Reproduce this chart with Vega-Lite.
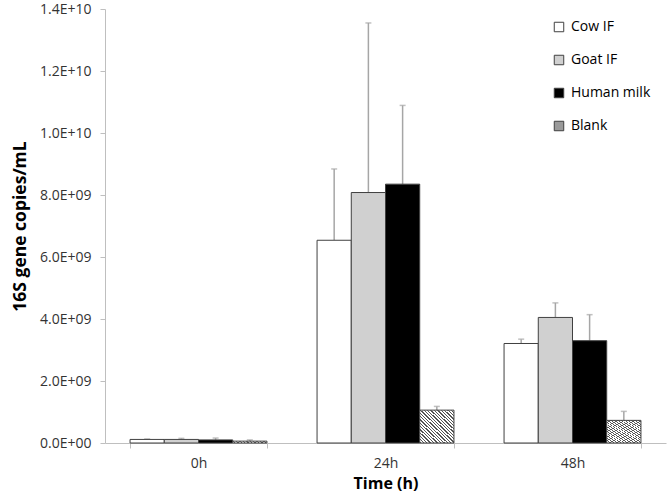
{
  "$schema": "https://vega.github.io/schema/vega-lite/v6.json",
  "width": 561,
  "height": 434,
  "autosize": {"type": "none"},
  "padding": {"left": 105, "top": 9, "right": 3, "bottom": 55},
  "background": "white",
  "config": {
    "view": {"stroke": null},
    "font": "Open Sans",
    "axis": {"labelFont": "Open Sans", "titleFont": "Open Sans", "labelColor": "#333333", "titleColor": "#000000", "domainColor": "#bfbfbf", "tickColor": "#bfbfbf", "grid": false}
  },
  "data": {
    "values": [
      {"time": "0h", "group": "Cow IF", "value": 1.15e8, "upper": 1.3e8},
      {"time": "0h", "group": "Goat IF", "value": 1.15e8, "upper": 1.5e8},
      {"time": "0h", "group": "Human milk", "value": 1.0e8, "upper": 1.6e8},
      {"time": "0h", "group": "Blank", "value": 0.6e8, "upper": 1.0e8},
      {"time": "24h", "group": "Cow IF", "value": 6.54e9, "upper": 8.84e9},
      {"time": "24h", "group": "Goat IF", "value": 8.08e9, "upper": 1.355e10},
      {"time": "24h", "group": "Human milk", "value": 8.35e9, "upper": 1.089e10},
      {"time": "24h", "group": "Blank", "value": 1.06e9, "upper": 1.18e9},
      {"time": "48h", "group": "Cow IF", "value": 3.21e9, "upper": 3.35e9},
      {"time": "48h", "group": "Goat IF", "value": 4.05e9, "upper": 4.52e9},
      {"time": "48h", "group": "Human milk", "value": 3.3e9, "upper": 4.14e9},
      {"time": "48h", "group": "Blank", "value": 0.73e9, "upper": 1.02e9}
    ]
  },
  "encoding": {
    "x": {
      "field": "time", "type": "nominal", "sort": ["0h", "24h", "48h"],
      "scale": {"paddingInner": 0.268, "paddingOuter": 0.134},
      "axis": {"title": "Time (h)", "labelAngle": 0, "labelFontSize": 14, "titleFontSize": 16, "titleFontWeight": "bold", "tickBand": "extent", "tickSize": 5, "labelPadding": 8, "titlePadding": 5}
    },
    "xOffset": {
      "field": "group", "type": "nominal", "sort": ["Cow IF", "Goat IF", "Human milk", "Blank"],
      "scale": {"paddingInner": 0, "paddingOuter": 0}
    }
  },
  "layer": [
    {
      "mark": {"type": "rule", "color": "#a6a6a6", "strokeWidth": 1.5},
      "encoding": {
        "y": {"field": "value", "type": "quantitative"},
        "y2": {"field": "upper"}
      }
    },
    {
      "mark": {"type": "tick", "color": "#a6a6a6", "thickness": 1.5, "size": 6, "orient": "horizontal"},
      "encoding": {
        "y": {"field": "upper", "type": "quantitative"}
      }
    },
    {
      "mark": {"type": "bar", "stroke": "#404040", "strokeWidth": 1},
      "encoding": {
        "y": {
          "field": "value", "type": "quantitative",
          "scale": {"domain": [0, 1.4e10], "nice": false},
          "axis": {
            "title": "16S gene copies/mL", "values": [0, 2e9, 4e9, 6e9, 8e9, 1e10, 1.2e10, 1.4e10],
            "labelExpr": "datum.value < 1e10 ? replace(upper(format(datum.value, '.1e')), 'E+', 'E+0') : upper(format(datum.value, '.1e'))",
            "labelFontSize": 14, "titleFontSize": 17.5, "titleFontWeight": "bold", "tickSize": 5, "labelPadding": 9, "titlePadding": 10
          }
        },
        "fill": {
          "condition": {"test": "datum.group === 'Blank'", "value": {"gradient": "linear", "x1": 0, "y1": 1, "x2": 1, "y2": 0, "stops": [
              {"offset": 0, "color": "#555555"}, {"offset": 0.02, "color": "#555555"}, {"offset": 0.02, "color": "#ffffff"}, {"offset": 0.05, "color": "#ffffff"},
              {"offset": 0.05, "color": "#555555"}, {"offset": 0.07, "color": "#555555"}, {"offset": 0.07, "color": "#ffffff"}, {"offset": 0.10, "color": "#ffffff"},
              {"offset": 0.10, "color": "#555555"}, {"offset": 0.12, "color": "#555555"}, {"offset": 0.12, "color": "#ffffff"}, {"offset": 0.15, "color": "#ffffff"},
              {"offset": 0.15, "color": "#555555"}, {"offset": 0.17, "color": "#555555"}, {"offset": 0.17, "color": "#ffffff"}, {"offset": 0.20, "color": "#ffffff"},
              {"offset": 0.20, "color": "#555555"}, {"offset": 0.22, "color": "#555555"}, {"offset": 0.22, "color": "#ffffff"}, {"offset": 0.25, "color": "#ffffff"},
              {"offset": 0.25, "color": "#555555"}, {"offset": 0.27, "color": "#555555"}, {"offset": 0.27, "color": "#ffffff"}, {"offset": 0.30, "color": "#ffffff"},
              {"offset": 0.30, "color": "#555555"}, {"offset": 0.32, "color": "#555555"}, {"offset": 0.32, "color": "#ffffff"}, {"offset": 0.35, "color": "#ffffff"},
              {"offset": 0.35, "color": "#555555"}, {"offset": 0.37, "color": "#555555"}, {"offset": 0.37, "color": "#ffffff"}, {"offset": 0.40, "color": "#ffffff"},
              {"offset": 0.40, "color": "#555555"}, {"offset": 0.42, "color": "#555555"}, {"offset": 0.42, "color": "#ffffff"}, {"offset": 0.45, "color": "#ffffff"},
              {"offset": 0.45, "color": "#555555"}, {"offset": 0.47, "color": "#555555"}, {"offset": 0.47, "color": "#ffffff"}, {"offset": 0.50, "color": "#ffffff"},
              {"offset": 0.50, "color": "#555555"}, {"offset": 0.52, "color": "#555555"}, {"offset": 0.52, "color": "#ffffff"}, {"offset": 0.55, "color": "#ffffff"},
              {"offset": 0.55, "color": "#555555"}, {"offset": 0.57, "color": "#555555"}, {"offset": 0.57, "color": "#ffffff"}, {"offset": 0.60, "color": "#ffffff"},
              {"offset": 0.60, "color": "#555555"}, {"offset": 0.62, "color": "#555555"}, {"offset": 0.62, "color": "#ffffff"}, {"offset": 0.65, "color": "#ffffff"},
              {"offset": 0.65, "color": "#555555"}, {"offset": 0.67, "color": "#555555"}, {"offset": 0.67, "color": "#ffffff"}, {"offset": 0.70, "color": "#ffffff"},
              {"offset": 0.70, "color": "#555555"}, {"offset": 0.72, "color": "#555555"}, {"offset": 0.72, "color": "#ffffff"}, {"offset": 0.75, "color": "#ffffff"},
              {"offset": 0.75, "color": "#555555"}, {"offset": 0.77, "color": "#555555"}, {"offset": 0.77, "color": "#ffffff"}, {"offset": 0.80, "color": "#ffffff"},
              {"offset": 0.80, "color": "#555555"}, {"offset": 0.82, "color": "#555555"}, {"offset": 0.82, "color": "#ffffff"}, {"offset": 0.85, "color": "#ffffff"},
              {"offset": 0.85, "color": "#555555"}, {"offset": 0.87, "color": "#555555"}, {"offset": 0.87, "color": "#ffffff"}, {"offset": 0.90, "color": "#ffffff"},
              {"offset": 0.90, "color": "#555555"}, {"offset": 0.92, "color": "#555555"}, {"offset": 0.92, "color": "#ffffff"}, {"offset": 0.95, "color": "#ffffff"},
              {"offset": 0.95, "color": "#555555"}, {"offset": 0.97, "color": "#555555"}, {"offset": 0.97, "color": "#ffffff"}, {"offset": 1.0, "color": "#ffffff"}
            ]}},
          "field": "group", "type": "nominal", "sort": ["Cow IF", "Goat IF", "Human milk", "Blank"],
          "scale": {
            "domain": ["Cow IF", "Goat IF", "Human milk", "Blank"],
            "range": ["#ffffff", "#d0d0d0", "#000000", "#9a9a9a"]
          },
          "legend": {
            "title": null, "orient": "none", "legendX": 447, "legendY": 11, "padding": 0,
            "symbolType": "square", "symbolSize": 90, "symbolStrokeColor": "#404040", "symbolStrokeWidth": 1,
            "labelFontSize": 14, "labelColor": "#000000", "labelFont": "Open Sans", "rowPadding": 19, "labelOffset": 5,
            "encode": {"symbols": {"update": {
              "stroke": {"value": "#404040"},
              "strokeWidth": {"value": 1},
              "fill": {"signal": "datum.value === 'Blank' ? {gradient: 'linear', x1: 0, y1: 1, x2: 1, y2: 0, stops: [{offset: 0, color: '#444444'}, {offset: 0.08, color: '#444444'}, {offset: 0.08, color: '#ffffff'}, {offset: 0.2, color: '#ffffff'}, {offset: 0.2, color: '#444444'}, {offset: 0.28, color: '#444444'}, {offset: 0.28, color: '#ffffff'}, {offset: 0.4, color: '#ffffff'}, {offset: 0.4, color: '#444444'}, {offset: 0.48, color: '#444444'}, {offset: 0.48, color: '#ffffff'}, {offset: 0.6, color: '#ffffff'}, {offset: 0.6, color: '#444444'}, {offset: 0.68, color: '#444444'}, {offset: 0.68, color: '#ffffff'}, {offset: 0.8, color: '#ffffff'}, {offset: 0.8, color: '#444444'}, {offset: 0.88, color: '#444444'}, {offset: 0.88, color: '#ffffff'}, {offset: 1, color: '#ffffff'}]} : scale('fill', datum.value)"}
            }}}
          }
        }
      }
    }
  ]
}
